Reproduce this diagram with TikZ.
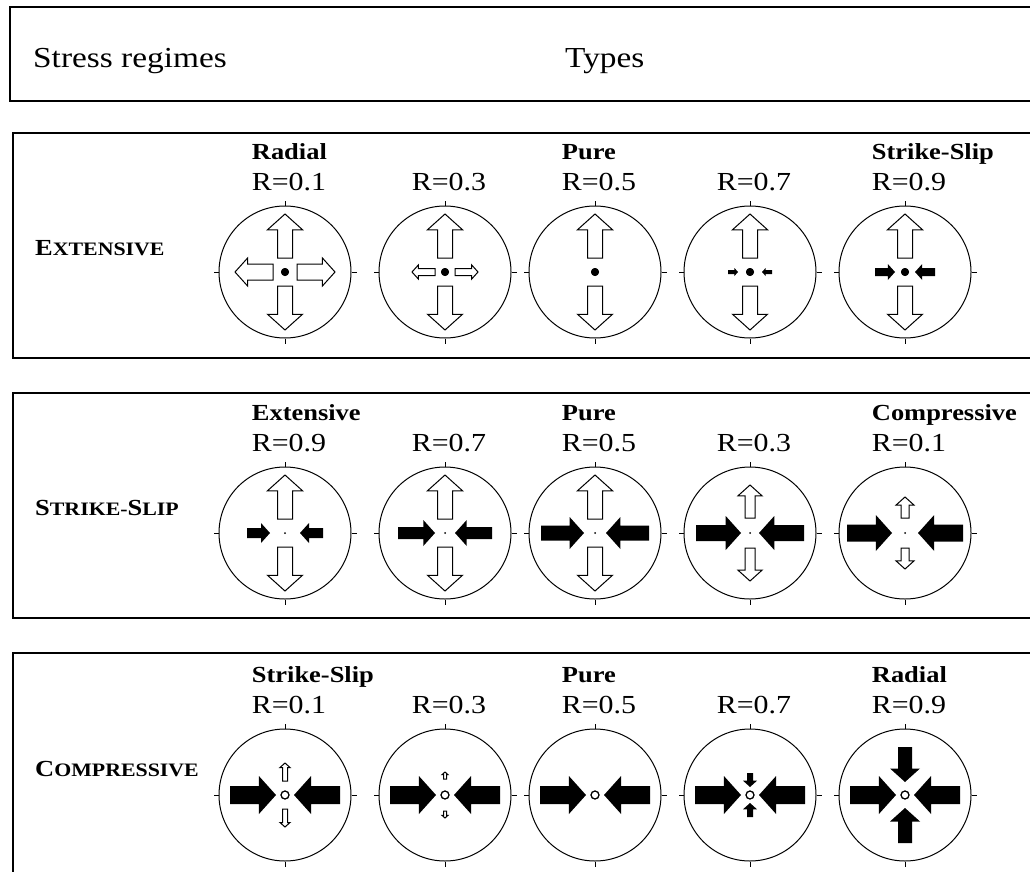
\documentclass[tikz,border=0pt]{standalone}
\usepackage{fontspec}
\setmainfont{Liberation Serif}[FakeStretch=1.15]
\usepackage{tikz}
\usetikzlibrary{positioning}

% block arrow: style, centre node, direction, tail, tip, shaft half-width, head half-width
\newcommand{\stressarrow}[7]{%
  \begin{scope}[shift={(#2)}, rotate=#3]
    \pgfmathsetmacro{\headbase}{#5-((#5>#4)?1:-1)*0.9*#7}
    \path[#1] (#4,-#6) -- (\headbase,-#6) -- (\headbase,-#7) -- (#5,0)
      -- (\headbase,#7) -- (\headbase,#6) -- (#4,#6) -- cycle;
  \end{scope}}
\newcommand{\fakesc}[2]{#1{\fontsize{19}{21}\selectfont #2}}

\begin{document}
\begin{tikzpicture}[
  x=1pt, y=-1pt,
  frame/.style ={line width=1.6pt},
  ring/.style  ={circle, draw, line width=1pt, minimum size=132pt, inner sep=0pt},
  tick/.style  ={line width=0.8pt},
  pull/.style  ={draw, fill=white, line width=1pt},
  push/.style  ={fill=black},
  rval/.style  ={font=\fontsize{26}{28}\selectfont, inner sep=0pt},
  tname/.style ={font=\bfseries\fontsize{23}{26}\selectfont, inner sep=0pt},
  regime/.style={font=\bfseries\fontsize{23}{26}\selectfont, inner sep=0pt},
  headline/.style={font=\fontsize{29}{32}\selectfont, inner sep=0pt}
]
\useasboundingbox (0,0) rectangle (1030,872);

% frames
\draw[frame] (1040,7) -| (10,101) -- (1040,101);
\draw[frame] (1040,133) -| (13,358) -- (1040,358);
\draw[frame] (1040,393) -| (13,618) -- (1040,618);
\draw[frame] (1040,653) -| (13,880);

\node[headline, anchor=base west] (regimes) at (33,68) {Stress regimes};
\node[headline, anchor=base west] (types)   at (565,68) {Types};

\node[regime, anchor=base west] (ext) at (35,255) {\fakesc{E}{XTENSIVE}};
\node[regime, anchor=base west] (ss)  at (35,515) {\fakesc{S}{TRIKE-}\fakesc{S}{LIP}};
\node[regime, anchor=base west] (cmp) at (35,776) {\fakesc{C}{OMPRESSIVE}};

% stereonets
\foreach \i/\x in {1/285,2/445,3/595,4/750,5/905} {
  \node[ring] (e\i) at (\x,272) {};
  \node[ring] (s\i) at (\x,533) {};
  \node[ring] (c\i) at (\x,795) {};
}
\foreach \row in {e,s,c}
  \foreach \i in {1,...,5}
    \foreach \a in {0,90,180,270}
      \draw[tick] (\row\i.\a) -- ([shift={(\a:5pt)}]\row\i.\a);

% R values
\foreach \i/\rv in {1/0.1,2/0.3,3/0.5,4/0.7,5/0.9}
  \node[rval, above=14pt of e\i, xshift=4pt] (re\i) {R=\rv};
\foreach \i/\rv in {1/0.9,2/0.7,3/0.5,4/0.3,5/0.1}
  \node[rval, above=14pt of s\i, xshift=4pt] (rs\i) {R=\rv};
\foreach \i/\rv in {1/0.1,2/0.3,3/0.5,4/0.7,5/0.9}
  \node[rval, above=14pt of c\i, xshift=4pt] (rc\i) {R=\rv};

% types
\node[tname, anchor=base west] (e1t) at ([yshift=31pt]re1.base west) {Radial};
\node[tname, anchor=base west] (e3t) at ([yshift=31pt]re3.base west) {Pure};
\node[tname, anchor=base west] (e5t) at ([yshift=31pt]re5.base west) {Strike-Slip};
\node[tname, anchor=base west] (s1t) at ([yshift=31pt]rs1.base west) {Extensive};
\node[tname, anchor=base west] (s3t) at ([yshift=31pt]rs3.base west) {Pure};
\node[tname, anchor=base west] (s5t) at ([yshift=31pt]rs5.base west) {Compressive};
\node[tname, anchor=base west] (c1t) at ([yshift=31pt]rc1.base west) {Strike-Slip};
\node[tname, anchor=base west] (c3t) at ([yshift=31pt]rc3.base west) {Pure};
\node[tname, anchor=base west] (c5t) at ([yshift=31pt]rc5.base west) {Radial};

% extensive row
\foreach \i in {1,...,5} {
  \foreach \a in {90,270} \stressarrow{pull}{e\i}{\a}{14}{58}{7.5}{17.5}
  \fill (e\i) circle[radius=4pt];
}
\foreach \a in {0,180} {
  \stressarrow{pull}{e1}{\a}{12}{50}{8}{14}
  \stressarrow{pull}{e2}{\a}{10}{33}{3.5}{7}
  \stressarrow{push}{e4}{\a}{22}{12}{2}{4}
  \stressarrow{push}{e5}{\a}{30}{10}{4}{8}
}

% strike-slip row
\foreach \a in {90,270} {
  \stressarrow{pull}{s1}{\a}{14}{58}{7.5}{17.5}
  \stressarrow{pull}{s2}{\a}{14}{58}{7.5}{17.5}
  \stressarrow{pull}{s3}{\a}{14}{58}{7.5}{17.5}
  \stressarrow{pull}{s4}{\a}{15}{48}{5}{12}
  \stressarrow{pull}{s5}{\a}{15}{36}{4}{9}
}
\foreach \a in {0,180} {
  \stressarrow{push}{s1}{\a}{38}{15}{5}{10}
  \stressarrow{push}{s2}{\a}{47}{10}{6}{13}
  \stressarrow{push}{s3}{\a}{54}{11}{7.5}{16}
  \stressarrow{push}{s4}{\a}{54}{9}{8}{17}
  \stressarrow{push}{s5}{\a}{58}{13}{8.5}{18}
}
\foreach \i in {1,...,5} \fill (s\i) circle[radius=1pt];

% compressive row
\foreach \i in {1,...,5} {
  \foreach \a in {0,180} \stressarrow{push}{c\i}{\a}{55}{9}{9}{19}
  \draw[line width=1pt] (c\i) circle[radius=4pt];
}
\foreach \a in {90,270} {
  \stressarrow{pull}{c1}{\a}{14}{32}{2.5}{5}
  \stressarrow{pull}{c2}{\a}{16}{23}{1.5}{3}
  \stressarrow{push}{c4}{\a}{22}{8}{3}{7}
  \stressarrow{push}{c5}{\a}{48}{13}{7}{15}
}
\end{tikzpicture}
\end{document}
